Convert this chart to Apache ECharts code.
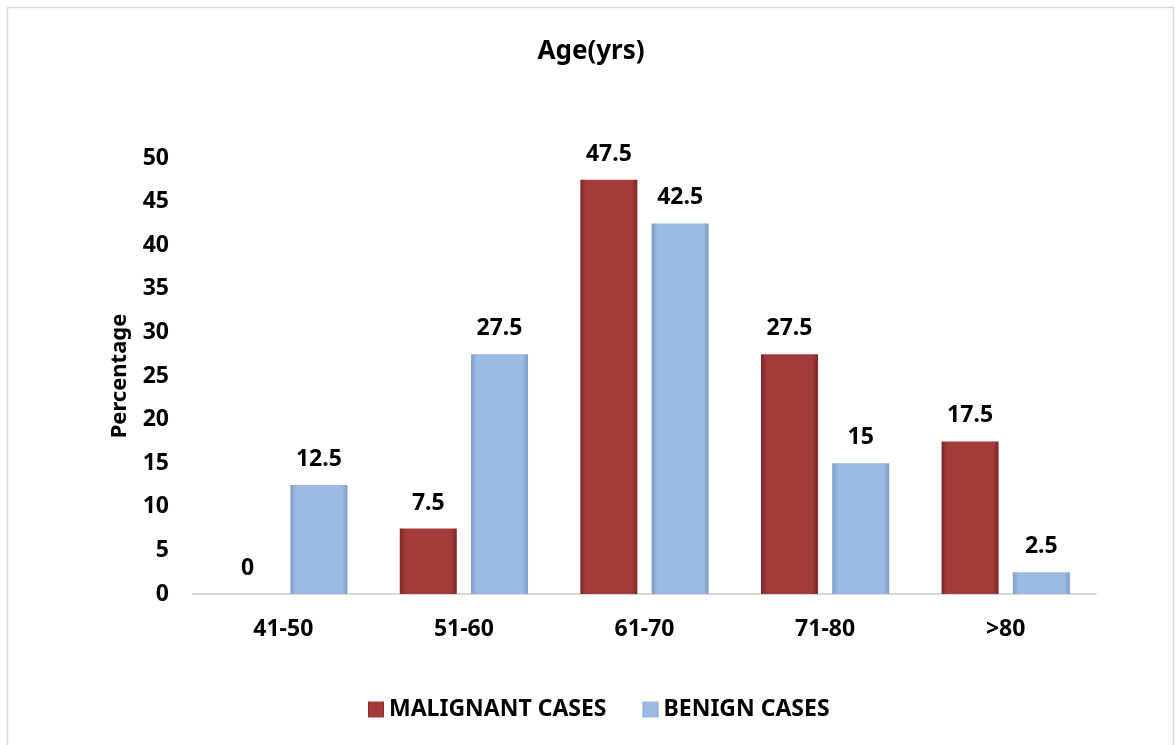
<!DOCTYPE html>
<html>
<head>
<meta charset="utf-8">
<script src="https://cdn.jsdelivr.net/npm/echarts@6/dist/echarts.min.js"></script>
<style>
html,body{margin:0;padding:0;background:#fff;}
#chart{width:1175px;height:745px;}
</style>
</head>
<body>
<div id="chart"></div>
<script>
const categories = ['41-50', '51-60', '61-70', '71-80', '>80'];
const malignant = [0, 7.5, 47.5, 27.5, 17.5];
const benign = [12.5, 27.5, 42.5, 15, 2.5];
const yTicks = { min: 0, max: 50, interval: 5 };

const FONT = '"Noto Sans", sans-serif';
const chart = echarts.init(document.getElementById('chart'));

function hGrad(edge, main) {
  return new echarts.graphic.LinearGradient(0, 0, 1, 0, [
    { offset: 0, color: edge },
    { offset: 0.1, color: main },
    { offset: 0.9, color: main },
    { offset: 1, color: edge }
  ]);
}

const labelStyle = {
  show: true,
  position: 'top',
  distance: 14,
  fontFamily: FONT,
  fontWeight: 'bold',
  fontSize: 23,
  color: '#000'
};

chart.setOption({
  animation: false,
  backgroundColor: '#fff',
  title: {
    text: 'Age(yrs)',
    left: 586,
    textAlign: 'center',
    top: 34,
    textStyle: { fontFamily: FONT, fontWeight: 'bold', fontSize: 26, color: '#000' }
  },
  graphic: [{
    type: 'rect',
    shape: { x: 7.5, y: 7.5, width: 1166, height: 760 },
    style: { fill: 'none', stroke: '#D9D9D9', lineWidth: 1.5 },
    silent: true
  }],
  legend: {
    left: 363,
    top: 693,
    itemWidth: 16,
    itemHeight: 16,
    itemGap: 36,
    icon: 'rect',
    textStyle: { fontFamily: FONT, fontWeight: 'bold', fontSize: 23, color: '#000' },
    data: ['MALIGNANT CASES', 'BENIGN CASES']
  },
  grid: { left: 193, right: 79, top: 158, bottom: 151, containLabel: false },
  xAxis: {
    type: 'category',
    data: categories,
    axisLine: { lineStyle: { color: '#D9D9D9', width: 2 } },
    axisTick: { show: false },
    axisLabel: { fontFamily: FONT, fontWeight: 'bold', fontSize: 23, color: '#000', margin: 24 }
  },
  yAxis: {
    type: 'value',
    min: yTicks.min,
    max: yTicks.max,
    interval: yTicks.interval,
    name: 'Percentage',
    nameLocation: 'middle',
    nameGap: 62,
    nameTextStyle: { fontFamily: FONT, fontWeight: 'bold', fontSize: 22, color: '#000' },
    axisLine: { show: false },
    axisTick: { show: false },
    splitLine: { show: false },
    axisLabel: { fontFamily: FONT, fontWeight: 'bold', fontSize: 23, color: '#000', margin: 24 }
  },
  series: [
    {
      name: 'MALIGNANT CASES',
      type: 'bar',
      data: malignant,
      barWidth: 57,
      barGap: '25%',
      itemStyle: {
        color: hGrad('#7E2626', '#A33B3B')
      },
      label: labelStyle
    },
    {
      name: 'BENIGN CASES',
      type: 'bar',
      data: benign,
      barWidth: 57,
      barGap: '25%',
      itemStyle: {
        color: hGrad('#7E9CC4', '#9CBBE2')
      },
      label: labelStyle
    }
  ]
});
</script>
</body>
</html>
